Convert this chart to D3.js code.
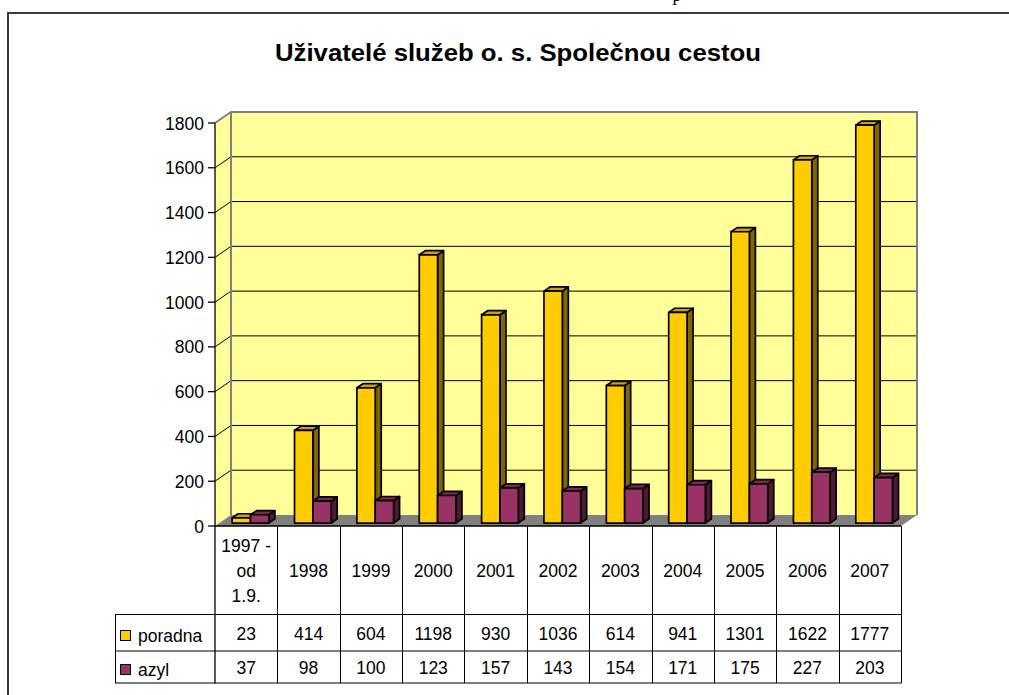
<!DOCTYPE html>
<html><head><meta charset="utf-8">
<script src="https://cdn.jsdelivr.net/npm/d3@7"></script>
<style>
html,body{margin:0;padding:0;background:#fff;}
svg{display:block;}
text{font-family:"Liberation Sans",Arial,sans-serif;fill:#000;}
</style></head>
<body>
<svg id="c" width="1009" height="695"></svg>
<script>
const categories = ["1997 -\nod\n1.9.","1998","1999","2000","2001","2002","2003","2004","2005","2006","2007"];
const seriesNames = ["poradna","azyl"];
const poradna = [23,414,604,1198,930,1036,614,941,1301,1622,1777];
const azyl = [37,98,100,123,157,143,154,171,175,227,203];
const yTicks = [0,200,400,600,800,1000,1200,1400,1600,1800];
const title = "Uživatelé služeb o. s. Společnou cestou";

const colors = {
  poradna:{front:"#FFCC00", side:"#806600", top:"#CCA300"},
  azyl:{front:"#993366", side:"#4D1A33", top:"#7A2952"}
};

const svg = d3.select("#c");
const left = 215, right = 901, yBase = 526, yTop = 123;
const DX = 16, DY = -11; // depth offset
const x = d3.scaleBand().domain(categories.map((d,i)=>i)).range([left,right]).paddingInner(0).paddingOuter(0);
const y = d3.scaleLinear().domain([0,1800]).range([yBase,yTop]);
const P = (xf, v, z) => [xf + z*DX, y(v) + z*DY];
const pts = a => a.map(p=>p.join(",")).join(" ");
const FS = "17.5px";

// frame
svg.append("line").attr("x1",8).attr("x2",1009).attr("y1",13).attr("y2",13).attr("stroke","#3a3a3a").attr("stroke-width",2);
svg.append("line").attr("x1",8).attr("x2",8).attr("y1",12).attr("y2",695).attr("stroke","#3a3a3a").attr("stroke-width",2);
svg.append("text").attr("x",677).attr("y",1).attr("text-anchor","middle").style("font-family","'Liberation Serif','Times New Roman',serif").style("font-size","18px").text("p");

// title
const t = svg.append("text").attr("x",518).attr("y",61).attr("text-anchor","middle")
  .style("font-size","23px").style("font-weight","bold").text(title);
t.attr("textLength",486).attr("lengthAdjust","spacingAndGlyphs");

// walls
svg.append("polygon").attr("points",pts([P(left,0,0),P(left,1800,0),P(left,1800,1),P(left,0,1)]))
  .attr("fill","#FFFF99").attr("stroke","none");
svg.append("polygon").attr("points",pts([P(left,0,1),P(left,1800,1),P(right,1800,1),P(right,0,1)]))
  .attr("fill","#FFFF99").attr("stroke","none");

// gridlines
yTicks.filter(v=>v>0 && v<1800).forEach(v=>{
  svg.append("polyline").attr("points",pts([P(left,v,0),P(left,v,1),P(right,v,1)]))
    .attr("fill","none").attr("stroke","#000").attr("stroke-width",1);
});
// wall borders
svg.append("polyline").attr("points",pts([P(left,1800,0),P(left,1800,1),P(right,1800,1),P(right,0,1)]))
  .attr("fill","none").attr("stroke","#808080").attr("stroke-width",2);
svg.append("line").attr("x1",P(left,0,1)[0]).attr("x2",P(left,0,1)[0]).attr("y1",P(left,0,1)[1]).attr("y2",P(left,1800,1)[1])
  .attr("stroke","#808080").attr("stroke-width",2);

// floor
svg.append("polygon").attr("points",pts([P(left,0,0),P(left,0,1),P(right,0,1),P(right,0,0)]))
  .attr("fill","#808080").attr("stroke","none");

// y axis
svg.append("line").attr("x1",left).attr("x2",left).attr("y1",yTop).attr("y2",683.5).attr("stroke","#000").attr("stroke-width",1.3);
yTicks.forEach(v=>{
  svg.append("line").attr("x1",208).attr("x2",left).attr("y1",y(v)).attr("y2",y(v)).attr("stroke","#000").attr("stroke-width",1.3);
  svg.append("text").attr("x",204).attr("y",y(v)+6.5).attr("text-anchor","end").style("font-size",FS).text(v);
});

// bars
const inner = d3.scaleBand().domain(seriesNames).range([0,36.7]).paddingInner(0);
const z0 = 0.27, z1 = 0.645;
const data = {poradna, azyl};
categories.forEach((c,i)=>{
  const cx = x(i) + x.bandwidth()/2 - 18.35;
  seriesNames.forEach(s=>{
    const v = data[s][i];
    const x0 = cx + inner(s), x1 = x0 + inner.bandwidth();
    const g = svg.append("g").attr("stroke","#000").attr("stroke-width",1.7).attr("stroke-linejoin","round");
    g.append("polygon").attr("points",pts([P(x1,0,z0),P(x1,v,z0),P(x1,v,z1),P(x1,0,z1)])).attr("fill",colors[s].side);
    g.append("polygon").attr("points",pts([P(x0,v,z0),P(x1,v,z0),P(x1,v,z1),P(x0,v,z1)])).attr("fill",colors[s].top);
    g.append("polygon").attr("points",pts([P(x0,0,z0),P(x0,v,z0),P(x1,v,z0),P(x1,0,z0)])).attr("fill",colors[s].front);
  });
});

// category axis line
svg.append("line").attr("x1",left).attr("x2",right).attr("y1",yBase).attr("y2",yBase).attr("stroke","#000").attr("stroke-width",1.3);

// data table
const rowY = [526, 614.5, 651, 683];
const tbl = svg.append("g").attr("stroke","#000").attr("stroke-width",1);
categories.forEach((c,i)=>{
  tbl.append("line").attr("x1",Math.round(x(i)+x.bandwidth())+0.5).attr("x2",Math.round(x(i)+x.bandwidth())+0.5).attr("y1",rowY[0]).attr("y2",rowY[3]);
});
[rowY[1],rowY[2],rowY[3]].forEach(yy=>{
  tbl.append("line").attr("x1",115).attr("x2",right+0.5).attr("y1",yy).attr("y2",yy);
});
tbl.append("line").attr("x1",115.5).attr("x2",115.5).attr("y1",rowY[1]).attr("y2",rowY[3]);

categories.forEach((c,i)=>{
  const cx = x(i) + x.bandwidth()/2;
  const lines = c.split("\n");
  lines.forEach((ln,k)=>{
    const cy = 570 + (k - (lines.length-1)/2)*25;
    svg.append("text").attr("x",cx).attr("y",cy+6.5).attr("text-anchor","middle").style("font-size",FS).text(ln);
  });
  svg.append("text").attr("x",cx).attr("y",633+6.5).attr("text-anchor","middle").style("font-size",FS).text(poradna[i]);
  svg.append("text").attr("x",cx).attr("y",667+6.5).attr("text-anchor","middle").style("font-size",FS).text(azyl[i]);
});

// legend keys in table
[["poradna",635.5],["azyl",669.5]].forEach(([s,cy])=>{
  svg.append("rect").attr("x",120.5).attr("y",cy-5).attr("width",10).attr("height",10)
    .attr("fill",colors[s].front).attr("stroke","#000").attr("stroke-width",1);
  svg.append("text").attr("x",138).attr("y",cy+6).style("font-size",FS).text(s);
});
</script>
</body></html>
